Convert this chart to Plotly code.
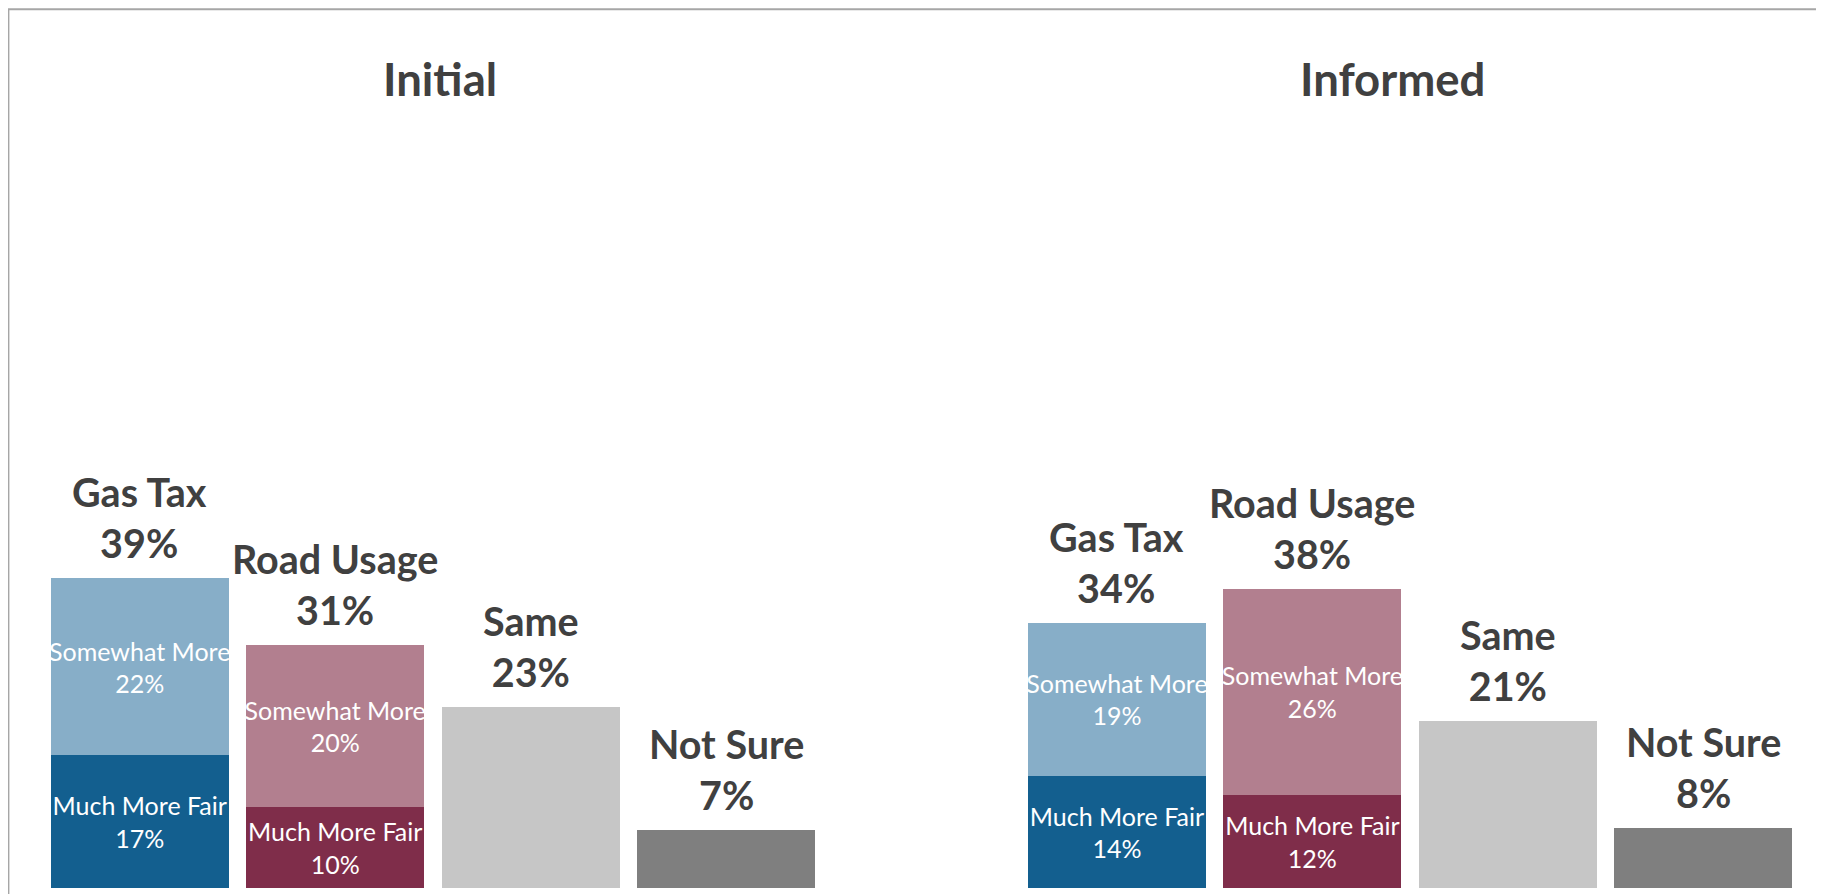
import plotly.graph_objects as go
from plotly.subplots import make_subplots

# data
categories = ["Gas Tax", "Road Usage", "Same", "Not Sure"]
panels = ["Initial", "Informed"]

initial_much = [16.8, 10.3]
initial_somewhat = [22.4, 20.4]
initial_other = [22.9, 7.4]
initial_labels = ["39%", "31%", "23%", "7%"]
initial_much_labels = ["17%", "10%"]
initial_somewhat_labels = ["22%", "20%"]

informed_much = [14.2, 11.8]
informed_somewhat = [19.4, 26.1]
informed_other = [21.2, 7.6]
informed_labels = ["34%", "38%", "21%", "8%"]
informed_much_labels = ["14%", "12%"]
informed_somewhat_labels = ["19%", "26%"]

# colours
much_colors = ["#135F8F", "#7F2D4A"]
somewhat_colors = ["#87AEC8", "#B27F8F"]
other_colors = ["#C6C6C6", "#7F7F7F"]
text_dark = "#404040"
font_name = "Lato"

fig = make_subplots(rows=1, cols=2, shared_yaxes=True, horizontal_spacing=1 / 9)

panel_data = [
    (initial_much, initial_somewhat, initial_other, initial_labels,
     initial_much_labels, initial_somewhat_labels),
    (informed_much, informed_somewhat, informed_other, informed_labels,
     informed_much_labels, informed_somewhat_labels),
]

for col, (much, somewhat, other, labels, much_lbl, some_lbl) in enumerate(panel_data, start=1):
    fig.add_trace(go.Bar(
        x=categories[:2], y=much, marker_color=much_colors,
        text=["Much More Fair<br>" + t for t in much_lbl],
        textposition="inside", insidetextanchor="middle", constraintext="none",
        textangle=0,
        textfont=dict(family=font_name, size=25, color="white"),
        marker_line_width=0, showlegend=False,
    ), row=1, col=col)
    fig.add_trace(go.Bar(
        x=categories[:2], y=somewhat, marker_color=somewhat_colors,
        text=["Somewhat More<br>" + t for t in some_lbl],
        textposition="inside", insidetextanchor="middle", constraintext="none",
        textangle=0,
        textfont=dict(family=font_name, size=25, color="white"),
        marker_line_width=0, showlegend=False,
    ), row=1, col=col)
    fig.add_trace(go.Bar(
        x=categories[2:], y=other, marker_color=other_colors,
        marker_line_width=0, showlegend=False,
    ), row=1, col=col)

    totals = [much[0] + somewhat[0], much[1] + somewhat[1], other[0], other[1]]
    xref = "x" if col == 1 else "x2"
    for cat, tot, lbl in zip(categories, totals, labels):
        fig.add_annotation(
            x=cat, y=tot, xref=xref, yref="y",
            text="<b>" + cat + "<br>" + lbl + "</b>",
            showarrow=False, yanchor="bottom", yshift=10,
            font=dict(family=font_name, size=39.5, color=text_dark),
        )

# panel titles
for name, px in zip(panels, [0.226, 0.7676]):
    fig.add_annotation(
        x=px, y=1.0, xref="paper", yref="paper", text="<b>" + name + "</b>",
        showarrow=False, xanchor="center", yanchor="bottom", yshift=-10,
        font=dict(family=font_name, size=45.5, color=text_dark),
    )

# chart border (left and top visible)
fig.add_shape(type="rect", xref="paper", yref="paper",
              x0=-0.0191, x1=1.05, y0=-0.05, y1=1.1123,
              line=dict(color="#A6A6A6", width=2))

fig.update_xaxes(showticklabels=False, showgrid=False, zeroline=False,
                 showline=False, categoryorder="array", categoryarray=categories)
fig.update_yaxes(showticklabels=False, showgrid=False, zeroline=False,
                 showline=False, range=[0, 100])

fig.update_layout(
    width=1816, height=886,
    margin=dict(l=34, r=23, t=90, b=6),
    barmode="stack", bargap=0.089,
    plot_bgcolor="white", paper_bgcolor="white",
    font=dict(family=font_name, color=text_dark),
)

fig.write_html("out.html")
